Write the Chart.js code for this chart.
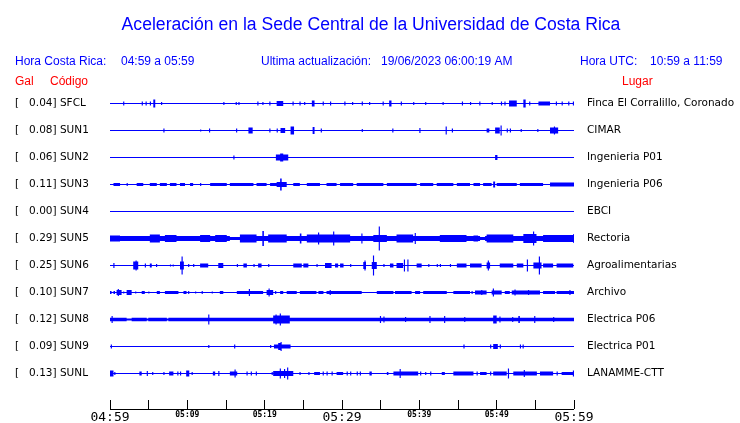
<!DOCTYPE html>
<html>
<head>
<meta charset="utf-8">
<script src="https://cdn.jsdelivr.net/npm/chart.js@4.4.0/dist/chart.umd.min.js"></script>
<style>
  html, body { margin: 0; padding: 0; background: #fff; }
  #wrap { width: 740px; height: 423px; position: relative; }
</style>
</head>
<body>
<div id="wrap"><canvas id="seis"></canvas></div>
<script>
// Station codes, places and peak acceleration (Gal), top to bottom
const STATIONS = ['SFCL', 'SUN1', 'SUN2', 'SUN3', 'SUN4', 'SUN5', 'SUN6', 'SUN7', 'SUN8', 'SUN9', 'SUNL'];
const PLACES = ['Finca El Corralillo, Coronado', 'CIMAR', 'Ingenieria P01', 'Ingenieria P06', 'EBCI', 'Rectoria',
  'Agroalimentarias', 'Archivo', 'Electrica P06', 'Electrica P01', 'LANAMME-CTT'];
const PEAK_GAL = [0.04, 0.08, 0.06, 0.11, 0.00, 0.29, 0.25, 0.10, 0.12, 0.09, 0.13];

// Time axis: minutes after 04:59, a tick every 5 minutes
const TICK_LABELS = ['04:59', '', '05:09', '', '05:19', '', '05:29', '', '05:39', '', '05:49', '', '05:59'];

// Background noise level of each trace (relative amplitude)
const BASE_AMP = [0.5, 0.5, 0.5, 0.5, 0.5, 2.5, 0.5, 0.5, 1.7, 0.5, 0.5];

// Envelope of each trace.
// [minute, amp] = short spike, [from, to, amp] = burst
const SFCL_TRACE = [[1.7, 2], [4.1, 2], [4.6, 2], [5.15, 2], [5.6, 5.85, 4], [6.6, 1.5], [14.65, 1.5], [16.25, 1.5],
  [16.6, 1.5], [19.05, 2], [19.7, 1.5], [20.6, 2], [21.55, 22.4, 2.5], [23.6, 2], [24.5, 2], [25.1, 1.5],
  [26.1, 26.45, 3], [27.5, 2], [28.45, 2], [30.3, 2], [31.3, 1.5], [32.55, 2], [33.5, 1.5], [35.25, 2],
  [36.1, 36.4, 3], [37.6, 2], [39.2, 1.5], [40.75, 1.5], [43.0, 1.5], [45.5, 2], [46.55, 1.5], [47.75, 2],
  [49.35, 1.5], [50.55, 2], [51.0, 2], [51.6, 52.6, 3], [53.45, 53.75, 4], [54.2, 2], [55.4, 56.9, 2],
  [57.65, 2], [58.4, 2], [59.25, 2], [59.85, 2]];
const SUN1_TRACE = [[6.9, 2], [11.65, 1], [12.8, 2], [16.3, 2], [17.9, 18.45, 3], [20.6, 2], [21.55, 2],
  [22.05, 22.65, 2.5], [23.35, 23.8, 4], [26.2, 26.45, 3.5], [27.25, 2], [32.55, 1.5], [36.5, 2], [40.0, 2.5],
  [43.4, 43.55, 4], [44.2, 2], [48.7, 49.05, 2], [49.8, 50.4, 3], [50.5, 50.65, 5], [51.3, 2], [51.7, 2],
  [53.1, 1.5], [55.25, 1.5], [56.9, 57.95, 3], [57.4, 57.55, 4]];
const SUN2_TRACE = [[15.95, 2], [21.45, 23.05, 3], [22.0, 22.4, 4], [49.8, 50.1, 2.5]];
const SUN3_TRACE = [[0.45, 1.3, 1.5], [2.15, 1.5], [3.45, 4.3, 1.5], [5.15, 6.05, 1.5], [6.45, 7.35, 1.5],
  [7.75, 8.6, 1.5], [9.05, 9.7, 1.5], [10.35, 10.75, 1.5], [11.65, 1.5], [12.95, 15.1, 1.5], [15.5, 18.55, 1.5],
  [18.95, 20.25, 1.5], [20.7, 21.55, 1.5], [21.55, 22.85, 2.5], [22.0, 22.2, 6], [23.7, 24.55, 1.5],
  [25.45, 27.15, 1.5], [28.0, 29.3, 1.5], [29.75, 31.45, 1.5], [31.9, 33.6, 1.5], [33.6, 35.35, 1.5],
  [35.8, 39.65, 1.5], [40.1, 41.8, 1.5], [42.25, 44.4, 1.5], [44.85, 46.55, 1.5], [47.0, 47.85, 1.5],
  [48.25, 49.35, 1.5], [49.55, 49.8, 3], [50.0, 52.6, 1.5], [53.0, 56.0, 1.5], [56.9, 60, 2]];
const SUN4_TRACE = [];
const SUN5_TRACE = [[0, 1.3, 3], [5.15, 6.45, 4], [7.1, 8.6, 3.5], [11.65, 12.95, 3.5], [13.6, 15.1, 3.5],
  [15.5, 16.8, 1.5], [16.8, 18.95, 4], [19.7, 19.9, 7.5], [20.45, 22.85, 4], [24.55, 24.75, 5], [25.45, 29.75, 4],
  [26.9, 27.05, 6], [28.85, 29.0, 7], [29.75, 31.05, 4], [32.5, 32.65, 5], [34.05, 35.8, 3.5], [34.75, 34.9, 12],
  [37.05, 39.2, 4], [39.4, 39.55, 5.5], [42.65, 46.1, 3.5], [47.0, 47.6, 3], [47.85, 48.5, 1.5], [48.7, 52.15, 4],
  [53.45, 55.15, 4.5], [54.7, 54.85, 7], [56.0, 59.9, 3.5], [59.9, 60, 4.5]];
const SUN6_TRACE = [[0.43, 2.5], [3.0, 3.65, 4], [3.3, 3.45, 5], [4.5, 2], [5.15, 5.4, 2], [5.95, 1.5], [7.75, 1],
  [8.1, 1], [9.05, 9.55, 4], [9.25, 9.4, 9], [10.1, 1.5], [10.75, 1.5], [11.65, 12.7, 2], [14.0, 14.65, 2.5],
  [16.4, 1.5], [17.25, 17.7, 2], [18.55, 1.5], [19.15, 19.6, 2], [20.45, 1.5], [23.7, 24.8, 2], [25.0, 25.65, 2],
  [26.7, 1.5], [27.8, 28.65, 2.5], [29.1, 29.5, 2], [29.75, 30.2, 2], [31.05, 1.5], [32.75, 33.1, 3.5],
  [32.9, 33.05, 5], [33.85, 34.5, 3.5], [34.0, 34.15, 10], [35.35, 1.5], [36.2, 36.65, 2], [37.05, 37.9, 2.5],
  [38.0, 38.15, 6], [38.45, 38.6, 6], [39.65, 40.3, 2], [41.15, 1.5], [42.25, 1.5], [42.65, 1.5], [43.95, 1.5],
  [44.85, 46.1, 2], [46.55, 48.05, 2], [48.7, 49.15, 3], [48.85, 49.0, 5], [50.4, 52.15, 2], [52.6, 53.45, 2],
  [53.9, 54.05, 6], [54.75, 55.8, 3], [55.45, 55.6, 9], [56.0, 57.3, 2], [57.75, 59.9, 2]];
const SUN7_TRACE = [[0, 0.2, 1.5], [0.45, 0.65, 1.5], [0.85, 1.5, 2.5], [1.0, 1.15, 3.5], [1.7, 1], [2.15, 2.8, 2.5],
  [3.25, 1], [4.1, 4.5, 1.5], [4.95, 1], [6.05, 6.45, 1.5], [7.1, 8.85, 1.5], [9.5, 9.9, 1.5], [10.1, 1.5], [11.0, 1],
  [11.85, 1.5], [13.15, 1], [14.2, 14.65, 1.5], [16.4, 19.8, 1.5], [17.95, 18.1, 3.5], [20.25, 21.1, 2.5],
  [20.5, 20.65, 4], [21.35, 1.5], [22.0, 22.4, 1.5], [22.85, 24.15, 1.5], [24.55, 26.7, 1.5], [26.95, 27.6, 1.5],
  [28.0, 29.75, 1.5], [28.4, 28.55, 2.5], [29.75, 32.55, 1.5], [34.5, 36.65, 1.5], [36.85, 39.0, 1.5],
  [39.45, 40.1, 1.5], [40.5, 43.55, 1.5], [44.4, 46.55, 1.5], [46.75, 1.5], [47.2, 48.7, 2], [48.0, 48.15, 2.5],
  [49.35, 50.65, 2], [49.5, 49.65, 4], [51.05, 51.7, 1.5], [51.95, 55.6, 2], [52.3, 52.45, 3], [54.05, 54.2, 2.5],
  [56.0, 57.55, 1.5], [57.75, 60, 1.5], [59.4, 59.55, 2.5]];
const SUN8_TRACE = [[0.2, 3.5], [2.15, 2.8, 1], [4.75, 4.95, 1], [7.35, 7.55, 1], [12.7, 5], [21.1, 23.25, 4],
  [21.4, 21.55, 5], [21.95, 22.1, 6], [34.9, 3.5], [35.35, 3], [38.15, 2.5], [41.3, 3.5], [43.2, 3.5], [45.8, 2.5],
  [49.55, 50.0, 4], [50.35, 3], [52.0, 2.5], [52.8, 53.0, 3.5], [54.85, 3.5], [57.3, 2.5]];
const SUN9_TRACE = [[0.1, 2], [12.7, 1.5], [16.05, 2], [20.7, 1.5], [21.2, 23.35, 2], [21.75, 22.2, 3.5],
  [22.05, 22.2, 4.5], [45.7, 2], [49.15, 2], [49.55, 50.15, 2.5], [50.4, 2], [53.0, 2], [53.35, 2]];
const SUNL_TRACE = [[0, 0.45, 3], [0.55, 1.5], [3.8, 4.1, 2], [4.75, 2.5], [5.45, 1.5], [6.9, 1.5], [7.65, 8.2, 2],
  [8.7, 2], [9.05, 2], [9.85, 10.25, 3], [10.55, 1.5], [13.3, 13.6, 2], [14.0, 2.5], [15.5, 16.45, 2],
  [16.1, 16.25, 4], [17.65, 2], [18.2, 2], [18.85, 2], [20.9, 1.5], [21.1, 23.7, 2.5], [21.95, 22.1, 5],
  [22.5, 22.65, 4.5], [22.9, 23.05, 6], [24.5, 1.5], [25.65, 1.5], [26.4, 27.15, 1.5], [27.5, 2], [28.0, 2],
  [28.65, 2], [29.3, 30.15, 1.5], [30.6, 2], [31.05, 2], [31.9, 2], [32.3, 2], [33.55, 33.85, 2], [35.8, 36.0, 1.5],
  [36.65, 39.85, 2], [37.45, 37.6, 4.5], [40.1, 2], [40.75, 1.5], [41.4, 2], [42.9, 43.3, 1.5], [44.4, 47.0, 2],
  [47.4, 2], [47.85, 48.7, 1.5], [49.15, 2], [49.55, 51.3, 2], [51.45, 51.6, 5], [52.15, 55.2, 2],
  [53.5, 53.65, 3.5], [55.6, 57.3, 2], [57.75, 2], [58.4, 59.9, 1.5], [59.85, 60, 3]];

const TRACES = [SFCL_TRACE, SUN1_TRACE, SUN2_TRACE, SUN3_TRACE, SUN4_TRACE, SUN5_TRACE,
  SUN6_TRACE, SUN7_TRACE, SUN8_TRACE, SUN9_TRACE, SUNL_TRACE];

const BLUE = '#0000ff';
const RED = '#ff0000';
const SPAN = 60;          // minutes shown
const SPIKE = 0.15;       // width of a single spike, minutes
const AMP_PER_ROW = 27;   // relative amplitude units between two traces

// Turn the list of spikes/bursts into steps [from, to, amp]; overlapping parts keep the bigger one
function envelope(events, base) {
  const spans = events.map(e => e.length === 2 ? [e[0], e[0] + SPIKE, e[1]] : e);
  const cuts = new Set([0, SPAN]);
  spans.forEach(s => { cuts.add(Math.min(s[0], SPAN)); cuts.add(Math.min(s[1], SPAN)); });
  const xs = [...cuts].sort((a, b) => a - b);
  const steps = [];
  for (let k = 0; k < xs.length - 1; k++) {
    const mid = (xs[k] + xs[k + 1]) / 2;
    let amp = null;
    spans.forEach(s => { if (s[0] <= mid && mid < s[1]) amp = Math.max(amp || 0, s[2]); });
    if (amp === null) amp = base;
    steps.push([xs[k], xs[k + 1], Math.max(amp, 0.5)]);
  }
  return steps;
}

function buildDatasets() {
  const sets = [];
  TRACES.forEach((events, i) => {
    const steps = envelope(events, BASE_AMP[i]);
    const last = steps[steps.length - 1][2];
    const upper = steps.map(s => ({ x: s[0], y: i - s[2] / AMP_PER_ROW }));
    const lower = steps.map(s => ({ x: s[0], y: i + s[2] / AMP_PER_ROW }));
    upper.push({ x: SPAN, y: i - last / AMP_PER_ROW });
    lower.push({ x: SPAN, y: i + last / AMP_PER_ROW });
    sets.push({ label: STATIONS[i], data: upper, fill: '+1' });
    sets.push({ label: STATIONS[i] + ' low', data: lower, fill: false });
  });
  return sets;
}

const leftLabels = STATIONS.map((s, i) => '[   ' + PEAK_GAL[i].toFixed(2) + '] ' + s);

// Title, header lines and the time axis base line
const headerText = {
  id: 'headerText',
  afterDraw(chart) {
    const ctx = chart.ctx;
    ctx.save();
    ctx.textBaseline = 'alphabetic';
    ctx.fillStyle = BLUE;
    ctx.font = '17.6px "Liberation Sans", Arial, sans-serif';
    ctx.textAlign = 'center';
    ctx.fillText('Aceleración en la Sede Central de la Universidad de Costa Rica', 371, 30);
    ctx.textAlign = 'left';
    ctx.font = '12px "Liberation Sans", Arial, sans-serif';
    ctx.fillText('Hora Costa Rica:', 15, 65);
    ctx.fillText('04:59 a 05:59', 121, 65);
    ctx.fillText('Ultima actualización:', 261, 65);
    ctx.fillText('19/06/2023 06:00:19 AM', 381, 65);
    ctx.fillText('Hora UTC:', 580, 65);
    ctx.fillText('10:59 a 11:59', 650, 65);
    ctx.fillStyle = RED;
    ctx.fillText('Gal', 15, 85);
    ctx.fillText('Código', 50, 85);
    ctx.fillText('Lugar', 622, 85);

    const x = chart.scales.x;
    const y = Math.round(x.top + x.options.grid.tickLength) + 0.5;
    ctx.strokeStyle = '#000';
    ctx.lineWidth = 1;
    ctx.beginPath();
    ctx.moveTo(x.getPixelForValue(0), y);
    ctx.lineTo(x.getPixelForValue(SPAN), y);
    ctx.stroke();
    ctx.restore();
  }
};

const rowScale = {
  min: -0.5,
  max: -0.5 + 310 / 27,
  reverse: true,
  grid: { display: false, drawTicks: false, tickLength: 0 },
  border: { display: false },
  afterBuildTicks: s => { s.ticks = STATIONS.map((_, i) => ({ value: i })); }
};

function init() {
  new Chart(document.getElementById('seis'), {
    type: 'line',
    data: { datasets: buildDatasets() },
    options: {
      responsive: true,
      maintainAspectRatio: false,
      animation: false,
      events: [],
      layout: { padding: { top: 90, left: 15, right: 0, bottom: 0 } },
      elements: {
        point: { radius: 0 },
        line: { borderWidth: 0, tension: 0, stepped: true, backgroundColor: BLUE, borderColor: BLUE }
      },
      plugins: { legend: { display: false }, tooltip: { enabled: false }, title: { display: false } },
      scales: {
        x: {
          type: 'linear', min: 0, max: SPAN,
          afterFit: s => { s.height = 23; },
          afterBuildTicks: s => { s.ticks = TICK_LABELS.map((_, k) => ({ value: k * 5 })); },
          grid: { display: true, drawOnChartArea: false, drawTicks: true, tickLength: 9, color: '#000', lineWidth: 1 },
          border: { display: false },
          ticks: {
            autoSkip: false, maxRotation: 0, padding: 1, color: '#000',
            callback: (v, k) => TICK_LABELS[k],
            font: c => (c.index % 6 === 0)
              ? { family: 'DejaVu Sans Mono', size: 13 }
              : { family: 'DejaVu Sans Mono', size: 8, weight: 'bold' }
          }
        },
        y: Object.assign({}, rowScale, {
          position: 'left',
          afterFit: s => { s.width = 95; },
          ticks: { crossAlign: 'far', color: '#000', font: { family: 'DejaVu Sans', size: 10.5 },
            callback: (v) => leftLabels[v] }
        }),
        y2: Object.assign({}, rowScale, {
          position: 'right',
          afterFit: s => { s.width = 166; },
          ticks: { padding: 13, color: '#000', font: { family: 'DejaVu Sans', size: 10.5 },
            callback: (v) => PLACES[v] }
        })
      }
    },
    plugins: [headerText]
  });
}

document.addEventListener('DOMContentLoaded', init);
</script>
</body>
</html>
